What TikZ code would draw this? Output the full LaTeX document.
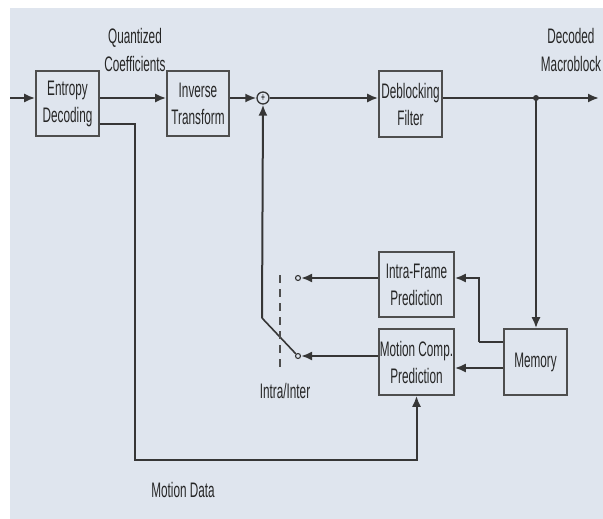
\documentclass[tikz,border=0pt]{standalone}
\usepackage{fontspec}
\setmainfont{Liberation Sans}[FakeStretch=0.56]
\usepackage{tikz}
\usetikzlibrary{positioning}
\usetikzlibrary{calc}
\usetikzlibrary{arrows.meta}
\definecolor{bgblue}{HTML}{DFE5EE}
\definecolor{wire}{HTML}{363636}
\definecolor{boxline}{HTML}{4E4E4E}
\definecolor{txt}{HTML}{262626}

\begin{document}
\begin{tikzpicture}[x=1pt, y=-1pt,
    blk/.style={draw=boxline, line width=1.6, minimum width=63pt, minimum height=65pt, inner sep=0pt, align=center, text=txt, font=\fontsize{21}{27}\selectfont},
    lbl/.style={align=center, text=txt, font=\fontsize{21}{28}\selectfont},
    wr/.style={draw=wire, line width=2},
    arr/.style={wr, -{Latex[length=11pt,width=9pt]}}]
  \useasboundingbox (0,0) rectangle (603,519);
  \fill[bgblue] (10,8) rectangle (603,519);
  % blocks
  \node[blk] (ent) at (67.5,103.5) {Entropy\\Decoding};
  \node[blk, minimum width=62pt] (inv) at (198,103.5) {Inverse\\Transform};
  \node[blk, minimum height=66pt] (dbk) at (410.5,104) {Deblocking\\Filter};
  \node[blk, minimum width=75pt] (intra) at (416.5,284.5) {Intra-Frame\\Prediction};
  \node[blk, minimum width=75pt, minimum height=66pt] (mcp) at (416.5,362) {Motion Comp.\\Prediction};
  \node[blk, minimum height=66pt] (mem) at (535.5,362) {Memory};
  \node[draw=wire, line width=1.3, circle, minimum size=12pt, inner sep=0pt, font=\fontsize{12}{12}\selectfont] (sum) at (263,98) {+};
  \node[draw=wire, line width=1.1, circle, minimum size=5pt, inner sep=0pt] (swa) at (298,278) {};
  \node[draw=wire, line width=1.1, circle, minimum size=5pt, inner sep=0pt] (swb) at (298,356) {};
  % labels
  \node[lbl] (qc) at (135,50) {Quantized\\Coefficients};
  \node[lbl] (dm) at (571,50) {Decoded\\Macroblock};
  \node[lbl] (ii) at (285,391) {Intra/Inter};
  \node[lbl] (md) at (183,490) {Motion Data};
  % helper points
  \coordinate (in) at (10,98);
  \coordinate (out) at (599,98);
  \coordinate (jn) at (536,98);
  \coordinate (piv) at (262,318);
  \coordinate (mvx) at (135,460);
  \coordinate (tap) at (479,342);
  % main path
  \draw[arr] (in) -- (ent.west |- in);
  \draw[arr] (ent.east |- in) -- (inv.west |- in);
  \draw[arr] (inv.east |- in) -- (sum.west);
  \draw[arr] (sum.east) -- (dbk.west |- in);
  \draw[arr] (dbk.east |- in) -- (out);
  \fill[wire] (jn) circle (3pt);
  \draw[arr] (jn) -- (mem.north -| jn);
  % feedback
  \draw[wr] (mem.west |- tap) -- (tap);
  \draw[arr] (tap) |- (intra.east |- swa);
  \draw[arr] (mem.west |- 0,368) -- (mcp.east |- 0,368);
  \draw[arr] (intra.west |- swa) -- (swa.east);
  \draw[arr] (mcp.west |- swb) -- (swb.east);
  \draw[wr, line width=1.6] (swb.north west) -- (piv);
  \draw[arr] (piv) -- (sum.south);
  \draw[boxline, line width=1.3, dash pattern=on 8pt off 6pt] (280,275) -- (280,368);
  % motion data
  \draw[arr] (ent.east |- 0,124) -| (mvx) -| (mcp.south);
\end{tikzpicture}
\end{document}
